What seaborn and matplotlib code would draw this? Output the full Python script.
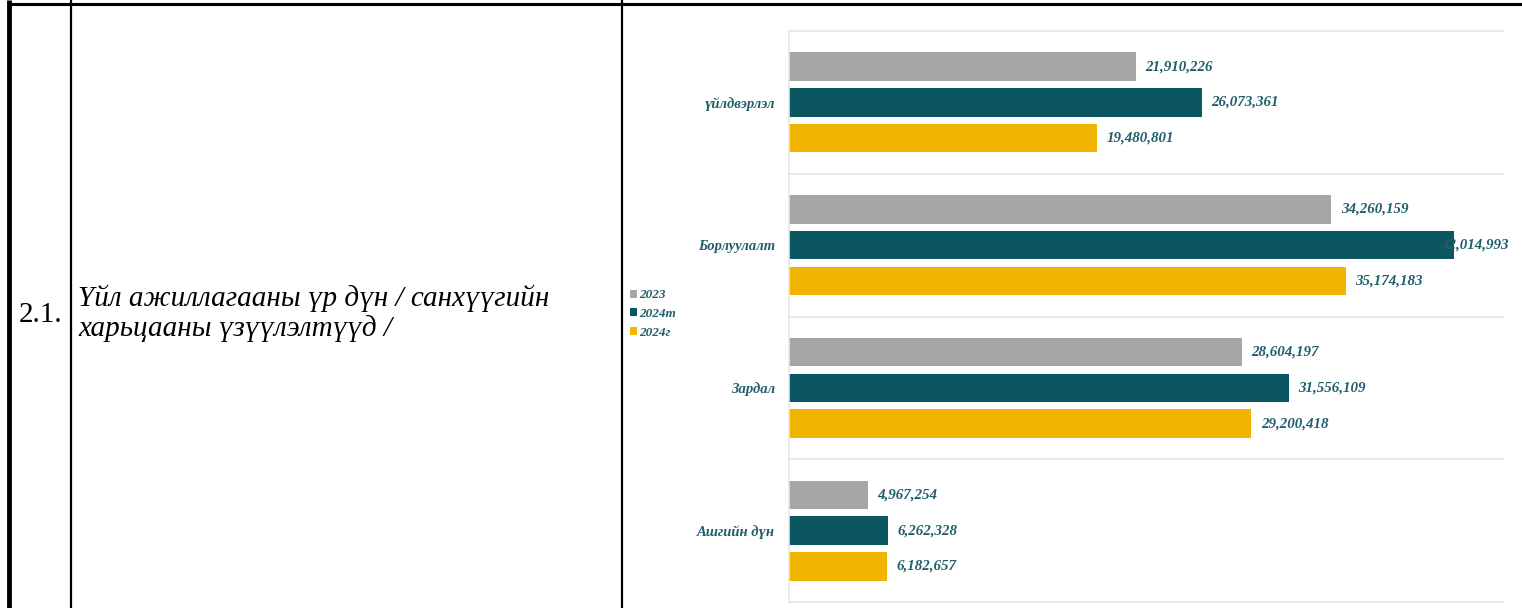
import pandas as pd
import matplotlib
matplotlib.use("Agg")
import matplotlib.pyplot as plt
from matplotlib.lines import Line2D
import seaborn as sns

# --- DATA ---
CATEGORIES = ["үйлдвэрлэл", "Борлуулалт", "Зардал", "Ашгийн дүн"]
YEARS = ["2023", "2024т", "2024г"]
V_2023 = [21910226, 34260159, 28604197, 4967254]
V_2024T = [26073361, 42014993, 31556109, 6262328]
V_2024G = [19480801, 35174183, 29200418, 6182657]
ROW_NO = "2.1."
ROW_TEXT = ["Үйл ажиллагааны үр дүн / санхүүгийн", "харьцааны үзүүлэлтүүд /"]

COLORS = ["#a6a6a6", "#0b5661", "#f0b500"]
TEXT_TEAL = "#1f5e6a"
W, H = 1522, 608


def build_frame():
    rows = []
    for year, vals in zip(YEARS, [V_2023, V_2024T, V_2024G]):
        for cat, v in zip(CATEGORIES, vals):
            rows.append({"category": cat, "year": year, "value": v})
    return pd.DataFrame(rows)


def fx(px):
    return px / W


def fy(py):
    return 1 - py / H


def draw_table(fig):
    """Document table borders and the left-hand text cells."""
    lines = [
        ((8, W), (4, 4), 2.2),
        ((8.5, 8.5), (0, H), 3.5),
        ((70.5, 70.5), (0, H), 1.6),
        ((621.5, 621.5), (0, H), 1.6),
    ]
    for xs, ys, lw in lines:
        fig.add_artist(Line2D([fx(x) for x in xs], [fy(y) for y in ys],
                              color="black", lw=lw, solid_capstyle="butt"))

    fig.text(fx(19), fy(315), ROW_NO, family="Liberation Serif",
             fontsize=21, va="center", ha="left", color="black")
    for i, line in enumerate(ROW_TEXT):
        fig.text(fx(78), fy(298 + i * 31), line, family="Liberation Serif",
                 style="italic", fontsize=21, va="center", ha="left", color="black")


def main():
    df = build_frame()
    sns.set_theme(style="white")
    plt.rcParams["font.family"] = ["Liberation Serif", "DejaVu Serif"]

    fig = plt.figure(figsize=(W / 100, H / 100), dpi=100)
    draw_table(fig)

    ax = fig.add_axes([fx(789), 1 - 602 / H, (1503 - 789) / W, (602 - 31) / H])
    sns.barplot(data=df, y="category", x="value", hue="year", orient="h",
                palette=COLORS, width=0.75, gap=0.2, linewidth=0,
                saturation=1, ax=ax, legend=True)

    ax.set_xlim(0, 45.1e6)
    ax.set_ylim(3.5, -0.5)
    ax.set_xlabel("")
    ax.set_ylabel("")
    ax.set_xticks([])
    ax.set_yticks(range(len(CATEGORIES)))
    ax.set_yticklabels(CATEGORIES, fontsize=10.5, fontweight="bold",
                       style="italic", color=TEXT_TEAL)
    ax.tick_params(axis="y", length=0, pad=10)

    # category separators
    for b in [-0.5, 0.5, 1.5, 2.5, 3.5]:
        ax.axhline(b, color="#e6e6e6", lw=1.2, zorder=0, clip_on=False)
    for side in ["top", "right", "bottom"]:
        ax.spines[side].set_visible(False)
    ax.spines["left"].set_color("#e6e6e6")
    ax.spines["left"].set_linewidth(1.2)

    xmax = ax.get_xlim()[1]
    for cont in ax.containers:
        anns = ax.bar_label(cont, fmt="{:,.0f}", padding=7, fontsize=10.8,
                            fontweight="bold", style="italic", color=TEXT_TEAL)
        for ann, patch in zip(anns, cont.patches):
            # labels that would run past the plot edge are pulled back onto the bar
            if patch.get_width() > 0.9 * xmax:
                ann.set_position((-9, 0))
                ann.set_zorder(5)

    handles, labels = ax.get_legend_handles_labels()
    ax.legend(handles, labels, loc="center left",
              bbox_to_anchor=(fx(623), fy(314)), bbox_transform=fig.transFigure,
              frameon=False, handlelength=0.55, handleheight=0.55,
              handletextpad=0.2, labelspacing=0.5, borderpad=0,
              prop={"family": "Liberation Serif", "size": 9.5,
                    "weight": "bold", "style": "italic"},
              labelcolor=TEXT_TEAL)

    fig.savefig("out.png", dpi=100)
    plt.close(fig)


if __name__ == "__main__":
    main()
